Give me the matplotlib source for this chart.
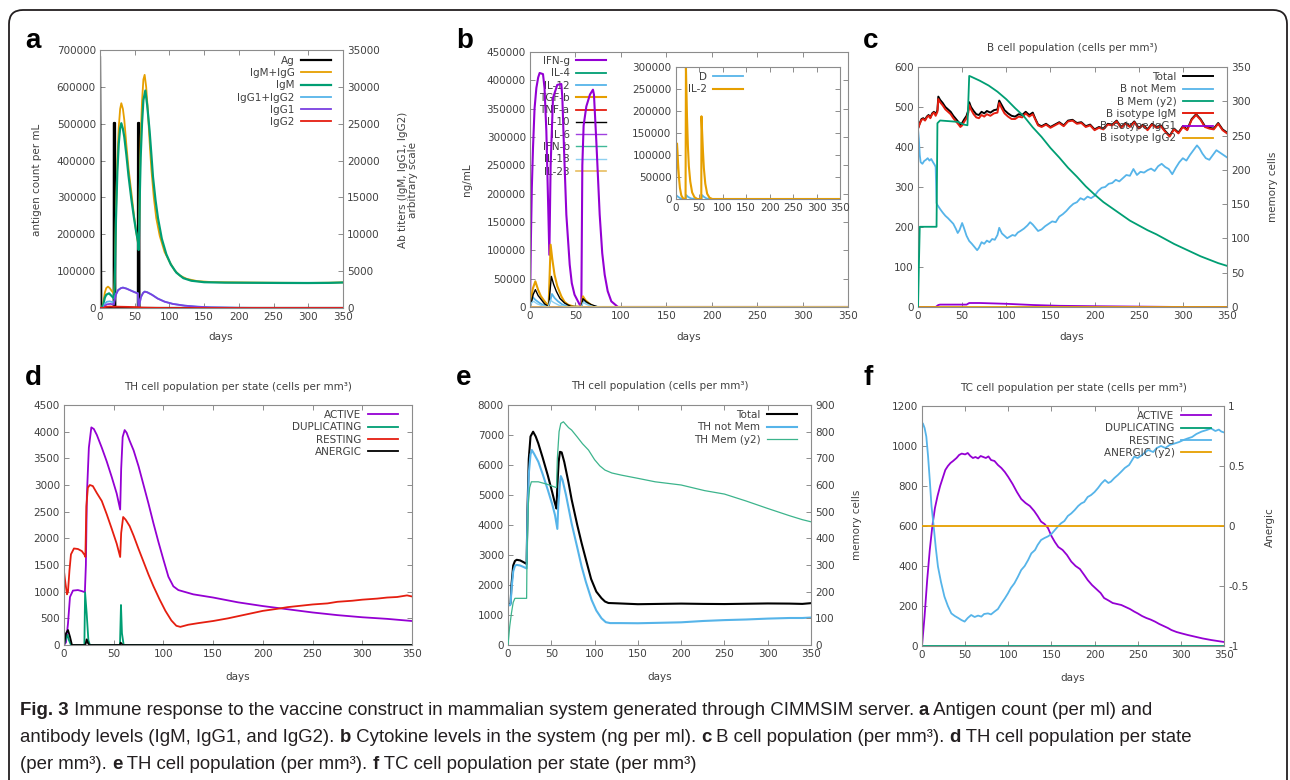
import matplotlib
matplotlib.use("Agg")
import matplotlib.pyplot as plt
from matplotlib.ticker import FuncFormatter
from matplotlib.transforms import IdentityTransform
from matplotlib.patches import FancyBboxPatch

W, H = 1290, 780
plt.rcParams['font.family'] = ['DejaVu Sans']
plt.rcParams['axes.unicode_minus'] = False

PURPLE = '#9400d3'
GREEN = '#009e73'
BLUE = '#56b4e9'
ORANGE = '#e69f00'
RED = '#e51e10'
BLACK = '#000000'
GRAY = '#8c8c8c'
TXT = '#404040'
FS = 7.5

day_ticks = [0, 50, 100, 150, 200, 250, 300, 350]

# ---- panel a : antigen (left) and antibody titers (right), (day, value)
a_ag = [(0, 680000), (1.8, 0), (19.8, 0), (20.0, 502000), (21.6, 502000), (22.0, 0),
        (54.6, 0), (54.8, 502000), (56.4, 502000), (56.8, 0), (350, 0)]
a_igm_igg = [(0, 0), (3, 0), (5, 900), (7, 2100), (9, 2700), (11.5, 2900), (14, 2700), (17, 2300),
             (20, 1990), (21, 3500), (22, 8000), (23, 13000), (25, 20000), (27, 24500), (29, 27000),
             (30.7, 27780), (33, 27000), (35, 25500), (38, 22100), (41, 19000), (45, 15800),
             (49, 12500), (52, 10400), (55.7, 8330), (56.5, 12000), (57.5, 18000), (58.6, 23000),
             (60.5, 28000), (62.5, 31000), (64.3, 31630), (66.5, 30000), (69, 26650), (71.5, 22500),
             (74, 18800), (77.5, 15000), (81, 12200), (86, 9800), (93, 7600), (100, 6300),
             (107.5, 5100), (115, 4400), (125, 3950), (140, 3650), (160, 3520), (184, 3484),
             (220, 3450), (260, 3420), (300, 3400), (330, 3430), (350, 3480)]
a_igm = [(0, 0), (3, 0), (5, 600), (7, 1400), (9, 1800), (13, 1990), (16, 1700), (20, 1310),
         (21, 2500), (22, 7000), (23, 12000), (25, 18500), (27, 22300), (29, 24400), (30.7, 25070),
         (33, 24300), (35, 23200), (38, 20770), (41, 18000), (45, 14890), (49, 12200), (52, 10400),
         (54.7, 9000), (55.7, 7870), (56.5, 11000), (57.5, 16000), (58.6, 20500), (60.5, 25000),
         (62.5, 28200), (65.3, 29500), (68, 27500), (71.5, 23940), (74, 20800), (76.3, 17800),
         (80, 14600), (83.5, 12200), (89, 9400), (95.5, 7300), (102, 5900), (110, 4800),
         (120, 4050), (131.5, 3700), (150, 3500), (180, 3440), (220, 3420), (260, 3400),
         (300, 3390), (330, 3410), (350, 3460)]
a_igg12 = [(0, 0), (5, 0), (7, 600), (10, 850), (14, 900), (18, 800), (20, 700), (21, 1200),
           (23, 1900), (26, 2450), (30, 2700), (33, 2780), (38, 2650), (44, 2400), (50, 2150),
           (54.7, 1990), (55.5, 200), (57, 600), (59, 1500), (62, 2050), (64.3, 2240), (68, 2150),
           (75, 1800), (83, 1300), (93, 860), (105, 560), (122, 317), (140, 180), (160, 90),
           (200, 25), (250, 0), (350, 0)]
a_igg1 = [(0, 0), (5, 0), (7, 300), (10, 500), (15, 560), (19, 480), (20, 450), (21, 1000),
          (23, 1800), (26, 2400), (30, 2680), (33, 2760), (38, 2630), (44, 2380), (50, 2130),
          (54.7, 1970), (55.5, 180), (57, 580), (59, 1480), (62, 2030), (64.3, 2217), (68, 2130),
          (75, 1780), (83, 1280), (93, 860), (105, 550), (122, 317), (140, 175), (160, 85),
          (200, 20), (250, 0), (350, 0)]
a_igg2 = [(0, 0), (5, 0), (8, 150), (15, 200), (20, 160), (25, 180), (40, 150), (55, 110),
          (60, 60), (80, 20), (100, 0), (350, 0)]

# ---- panel b : cytokines
b_ifng = [(0, 0), (1, 120000), (2, 210000), (3.3, 280600), (5, 350000), (7, 386500), (9, 405000),
          (10.6, 413000), (14.3, 411000), (16, 386500), (18, 310000), (19.8, 192000), (21.3, 92000),
          (22.7, 250000), (25.3, 368800), (30, 392000), (34.5, 393500), (35.6, 368800),
          (37.4, 280600), (40, 163000), (43.7, 74700), (46, 42000), (49, 21800), (54.7, 4100),
          (56.5, 2000), (57.6, 250000), (59, 320000), (62, 354000), (66, 375000), (69.3, 383500),
          (70.4, 374700), (73, 292400), (76.7, 163000), (79.5, 95000), (82.2, 57000),
          (85.5, 28000), (89.5, 10000), (96.8, 0), (350, 0)]
b_tgfb = [(0, 0), (1, 10000), (3, 32000), (5.9, 45300), (9, 30000), (12, 19000), (16, 10000),
          (20.5, 1200), (22.7, 110000), (24.5, 85000), (27, 57000), (30, 37000), (34.5, 18800),
          (38, 9000), (41.8, 4100), (48, 800), (56.5, 500), (58.3, 18800), (61, 12000),
          (65.7, 5300), (71.2, 0), (350, 0)]
b_il10 = [(0, 0), (1.5, 8000), (3.5, 22000), (5.9, 30600), (9, 20000), (12.5, 12900), (16, 5500),
          (20.5, 800), (23.5, 54000), (26, 40000), (29, 27600), (33, 15000), (38, 7000),
          (45, 1000), (56.5, 300), (58.3, 14700), (62, 9000), (67.5, 4100), (75, 0), (350, 0)]
b_il12 = [(0, 0), (1.5, 11000), (3.3, 17000), (6, 12500), (10.6, 7000), (15, 3000), (20, 600),
          (21.5, 6000), (24.2, 23000), (27, 16000), (30.8, 10000), (36, 4000), (41.8, 1200),
          (56.5, 200), (58.3, 13000), (62, 8000), (67.5, 2500), (75, 0), (350, 0)]
b_il18 = [(0, 0), (2, 8000), (4, 10000), (8, 5500), (14, 2000), (20, 300), (22.5, 12000),
          (26, 8000), (32, 3000), (40, 500), (56.5, 0), (58.5, 8000), (63, 4000), (70, 500),
          (80, 0), (350, 0)]
b_zero = [(0, 0), (350, 0)]
b_il2 = [(0, 0), (1, 60000), (2, 110000), (2.8, 126000), (4, 105000), (5, 82000), (7, 48000),
         (9, 25000), (12, 8000), (16, 1000), (21, 0), (21.4, 150000), (21.8, 300000),
         (23, 240000), (24, 190000), (26, 120000), (28, 75000), (31, 40000), (35, 15000),
         (40, 4000), (46, 0), (54.5, 0), (54.9, 188000), (56, 160000), (58, 110000), (60, 70000),
         (63, 35000), (67, 12000), (72, 3000), (78, 0), (350, 0)]
b_d = [(0, 0), (2, 8000), (5, 5000), (10, 1500), (18, 0), (21.5, 0), (22.5, 9000), (26, 5000),
       (32, 1500), (40, 0), (55, 0), (56, 9000), (60, 5000), (66, 1000), (75, 0), (350, 0)]

# ---- panel c : B cell population
c_total = [(0, 446), (2, 460), (4, 470), (6, 472), (8, 468), (10, 476), (12, 480), (14, 474),
           (16, 484), (18, 488), (20, 482), (22, 492), (23, 526), (25, 518), (28, 510), (31, 500),
           (34, 494), (37, 488), (40, 478), (43, 470), (46, 462), (48, 455), (50, 460), (52, 468),
           (55, 478), (57, 492), (58, 512), (60, 500), (63, 490), (66, 482), (69, 480), (72, 488),
           (75, 484), (78, 490), (82, 486), (86, 492), (90, 494), (92, 516), (95, 504), (98, 492),
           (102, 484), (106, 478), (110, 476), (114, 482), (118, 480), (122, 488), (126, 480),
           (130, 486), (133, 470), (136, 456), (140, 452), (145, 458), (150, 450), (155, 456),
           (160, 462), (165, 454), (170, 466), (175, 468), (180, 460), (185, 462), (190, 452),
           (195, 456), (200, 444), (205, 450), (210, 446), (215, 458), (220, 456), (225, 466),
           (230, 450), (235, 460), (240, 452), (245, 464), (250, 448), (255, 456), (260, 444),
           (265, 458), (270, 450), (275, 454), (280, 440), (285, 428), (290, 446), (295, 436),
           (300, 452), (305, 444), (310, 470), (315, 482), (320, 470), (325, 452), (330, 448),
           (335, 446), (340, 460), (345, 444), (350, 436)]
c_igm = [(0, 446), (2, 458), (4, 468), (6, 470), (8, 466), (10, 474), (12, 478), (14, 472),
         (16, 482), (18, 486), (20, 478), (22, 488), (23, 520), (25, 512), (28, 504), (31, 494),
         (34, 488), (37, 482), (40, 472), (43, 464), (46, 456), (48, 450), (50, 454), (52, 462),
         (55, 472), (57, 486), (58, 505), (60, 494), (63, 482), (66, 474), (69, 472), (72, 480),
         (75, 476), (78, 482), (82, 478), (86, 484), (90, 486), (92, 510), (95, 496), (98, 484),
         (102, 476), (106, 470), (110, 470), (114, 476), (118, 474), (122, 484), (126, 476),
         (130, 482), (133, 468), (136, 454), (140, 450), (145, 456), (150, 448), (155, 454),
         (160, 460), (165, 452), (170, 464), (175, 466), (180, 458), (185, 460), (190, 450),
         (195, 454), (200, 442), (205, 448), (210, 444), (215, 456), (220, 454), (225, 464),
         (230, 448), (235, 458), (240, 450), (245, 462), (250, 446), (255, 454), (260, 442),
         (265, 456), (270, 448), (275, 452), (280, 438), (285, 426), (290, 444), (295, 434),
         (300, 450), (305, 442), (310, 468), (315, 480), (320, 468), (325, 450), (330, 446),
         (335, 444), (340, 458), (345, 442), (350, 434)]
c_notmem = [(0, 445), (1, 420), (2, 380), (3, 362), (5, 358), (7, 365), (9, 368), (11, 372),
            (13, 366), (15, 370), (17, 362), (19, 355), (20, 350), (21, 260), (22, 255),
            (25, 245), (28, 236), (31, 228), (34, 222), (37, 215), (40, 208), (43, 195),
            (45, 185), (47, 192), (50, 210), (52, 198), (55, 178), (58, 165), (61, 158),
            (64, 150), (67, 142), (69, 148), (72, 162), (75, 158), (78, 166), (81, 162),
            (84, 170), (87, 168), (90, 180), (92, 198), (95, 184), (98, 178), (101, 172),
            (104, 176), (107, 180), (110, 178), (113, 186), (116, 190), (120, 196), (124, 204),
            (127, 212), (130, 206), (133, 198), (136, 190), (140, 194), (144, 202), (148, 208),
            (152, 214), (156, 212), (160, 226), (164, 232), (168, 240), (172, 250), (176, 258),
            (180, 262), (184, 272), (188, 268), (192, 276), (196, 272), (200, 278), (204, 290),
            (208, 298), (212, 300), (216, 308), (220, 310), (224, 318), (228, 314), (232, 322),
            (236, 330), (240, 328), (244, 345), (248, 330), (252, 338), (256, 336), (260, 342),
            (264, 346), (268, 340), (272, 352), (276, 358), (280, 350), (284, 345), (288, 332),
            (292, 348), (296, 362), (300, 372), (304, 366), (308, 380), (312, 392), (316, 404),
            (319, 396), (322, 384), (326, 372), (330, 368), (334, 380), (338, 392), (342, 386),
            (346, 380), (350, 374)]
c_mem = [(0, 0), (1, 60), (2, 117), (21, 117), (22, 268), (25, 272), (35, 271), (45, 270),
         (52, 266), (56, 265), (57, 300), (58, 337), (60, 336), (70, 330), (80, 323), (90, 314),
         (100, 303), (110, 290), (120, 278), (130, 262), (140, 248), (150, 232), (160, 218),
         (170, 203), (180, 190), (190, 176), (200, 164), (210, 153), (220, 144), (230, 135),
         (240, 126), (250, 119), (260, 112), (270, 106), (280, 99), (290, 92), (300, 86),
         (310, 80), (320, 74), (330, 69), (340, 64), (350, 60)]
c_igg1 = [(0, 0), (20, 0), (23, 5), (25, 6), (55, 6), (58, 10), (70, 10), (100, 8), (130, 5),
          (160, 3), (200, 2), (250, 1), (300, 0), (350, 0)]
c_igg2 = [(0, 0), (350, 0)]

# ---- panel d : TH cells per state
d_active = [(0, 0), (2, 50), (4, 400), (6, 900), (9, 1020), (14, 1030), (18, 1010), (21, 990),
            (22, 1500), (23, 2800), (25, 3700), (27.5, 4080), (30, 4050), (33, 3940), (38, 3700),
            (43, 3440), (48, 3150), (53, 2840), (56.5, 2540), (57.5, 3300), (59, 3900),
            (61, 4030), (63, 3980), (66, 3830), (70, 3650), (75, 3350), (80, 3000), (85, 2650),
            (90, 2280), (95, 1930), (100, 1600), (105, 1280), (110, 1100), (115, 1030),
            (130, 950), (150, 890), (175, 800), (200, 730), (225, 670), (250, 610), (275, 560),
            (300, 520), (325, 490), (350, 450)]
d_dup = [(0, 0), (2, 120), (3.5, 190), (5, 90), (7, 0), (20.5, 0), (21.2, 987), (22.8, 594),
         (24.5, 94), (26, 0), (56.3, 0), (57.3, 750), (58.3, 219), (60, 0), (350, 0)]
d_resting = [(0, 1380), (1.5, 1150), (3, 950), (4, 1000), (5.5, 1400), (7, 1700), (10, 1810),
             (14, 1800), (18, 1760), (21, 1680), (21.5, 1650), (22.5, 2600), (24, 2950),
             (26, 3000), (29, 2980), (33, 2850), (38, 2700), (43, 2450), (48, 2180), (53, 1900),
             (56.5, 1650), (57.5, 2100), (59.5, 2400), (62, 2350), (66, 2230), (70, 2050),
             (75, 1800), (80, 1560), (85, 1320), (90, 1100), (96, 860), (102, 640), (108, 460),
             (113, 360), (117, 340), (125, 380), (135, 410), (150, 450), (165, 500), (175, 540),
             (190, 600), (200, 640), (215, 680), (225, 710), (240, 740), (250, 760), (265, 780),
             (275, 810), (290, 830), (300, 850), (315, 870), (325, 890), (335, 900), (345, 930),
             (350, 910)]
d_anergic = [(0, 0), (2, 219), (4, 281), (6, 156), (8, 0), (21.5, 0), (22.8, 106), (24.5, 20),
             (26, 0), (56.3, 0), (57, 44), (59, 0), (350, 0)]

# ---- panel e : TH cell population
e_total = [(0, 1370), (2, 1340), (3, 1400), (4, 2000), (6, 2650), (8, 2800), (10, 2840),
           (14, 2820), (18, 2760), (21.5, 2700), (22.5, 4500), (24, 6200), (26, 6950),
           (29, 7110), (32, 6950), (35, 6720), (40, 6250), (46, 5650), (51, 5100), (54, 4750),
           (56, 4550), (57, 5300), (58.5, 6100), (60, 6440), (62, 6420), (65, 6100), (70, 5400),
           (73.5, 4850), (80, 4000), (85, 3400), (90, 2850), (96, 2200), (102, 1780),
           (108, 1560), (112, 1450), (116, 1400), (125, 1390), (150, 1360), (175, 1370),
           (200, 1380), (225, 1370), (250, 1365), (275, 1375), (300, 1385), (325, 1380),
           (340, 1370), (350, 1395)]
e_notmem = [(0, 1370), (2, 1320), (3, 1350), (4, 1850), (6, 2450), (8, 2640), (10, 2670),
            (14, 2650), (18, 2600), (21.5, 2550), (22.5, 4300), (24, 5700), (26, 6350),
            (27.5, 6500), (30, 6380), (35, 6110), (40, 5700), (46, 5170), (51, 4700),
            (54.3, 4330), (57, 3870), (58, 4600), (60, 5400), (61, 5630), (63, 5500), (67, 5000),
            (73.5, 4050), (80, 3250), (85, 2620), (90, 2100), (96.6, 1500), (102, 1150),
            (108, 890), (113, 760), (118, 730), (130, 730), (150, 725), (175, 740), (200, 756),
            (225, 800), (250, 830), (275, 850), (300, 880), (325, 900), (340, 900), (350, 915)]
e_mem = [(0, 0), (2, 70), (4, 120), (6, 160), (8, 175), (21.5, 175), (22, 350), (23.5, 530),
         (25, 590), (27, 612), (35, 612), (45, 603), (56, 590), (57, 700), (59, 800), (61, 831),
         (64, 837), (70, 815), (73.5, 806), (80, 780), (86, 755), (93, 731), (100, 695),
         (106, 672), (112, 656), (120, 645), (131, 637), (150, 625), (170, 612), (200, 600),
         (227, 579), (250, 566), (275, 540), (300, 512), (325, 485), (340, 470), (350, 462)]

# ---- panel f : TC cells per state
f_active = [(0, 0), (3, 150), (6, 330), (9, 480), (12, 600), (15, 690), (18, 750), (21, 800),
            (24, 840), (27, 880), (30, 900), (33, 915), (36, 925), (40, 940), (43, 955),
            (46, 962), (50, 958), (53, 965), (56, 950), (59, 940), (62, 945), (65, 938),
            (68, 950), (71, 945), (74, 940), (77, 948), (80, 930), (84, 925), (88, 905),
            (92, 890), (96, 870), (100, 845), (105, 810), (110, 770), (115, 735), (120, 715),
            (125, 700), (130, 675), (134, 650), (138, 622), (142, 610), (146, 590), (150, 550),
            (154, 520), (158, 495), (163, 480), (168, 455), (173, 422), (178, 400), (183, 385),
            (188, 355), (192, 330), (197, 305), (202, 285), (207, 265), (211, 240), (216, 228),
            (221, 215), (226, 210), (231, 205), (236, 195), (241, 185), (246, 172), (250, 163),
            (255, 150), (260, 140), (265, 132), (270, 122), (275, 110), (280, 100), (285, 90),
            (289, 80), (295, 70), (300, 64), (308, 55), (315, 48), (325, 38), (335, 30),
            (347, 22), (350, 20)]
f_dup = [(0, 0), (350, 0)]
f_resting = [(0, 1100), (1, 1113), (3, 1090), (5, 1047), (7, 950), (9, 830), (11, 700),
             (13.5, 600), (16, 490), (18.5, 397), (22, 320), (26, 247), (30, 200), (34, 163),
             (38, 150), (42, 140), (45.6, 130), (49.4, 122), (53, 140), (57, 155), (61, 145),
             (65, 152), (68.8, 147), (72, 160), (76.5, 163), (80, 158), (84, 172), (88, 185),
             (92, 213), (96, 238), (99.6, 263), (103, 290), (107, 313), (111, 345), (115, 380),
             (119, 400), (123, 430), (126.7, 463), (131, 480), (134, 505), (138, 530),
             (142, 540), (146, 548), (150, 560), (154, 580), (158, 600), (161, 613), (165, 625),
             (169, 650), (173, 663), (177, 680), (181, 700), (184.6, 713), (188, 720),
             (192, 745), (196, 755), (200, 770), (204, 790), (208, 813), (212, 830), (216, 815),
             (219, 822), (223, 840), (227, 855), (231, 872), (235, 890), (240, 905), (246, 947),
             (250, 940), (255, 955), (262, 980), (268, 970), (272, 990), (277, 1000),
             (282, 990), (287, 1005), (293, 1013), (298, 1020), (303, 1030), (308, 1038),
             (313, 1045), (318, 1060), (324, 1072), (330, 1080), (335, 1088), (340, 1075),
             (344, 1082), (347, 1072), (350, 1068)]
f_anergic = [(0, 0), (350, 0)]


def cols(pts):
    return [p[0] for p in pts], [p[1] for p in pts]


fig = plt.figure(figsize=(W / 100, H / 100), dpi=100)


def add_ax(l, t, r, b):
    return fig.add_axes([l / W, 1 - b / H, (r - l) / W, (b - t) / H])


def ptext(x, y, s, **kw):
    kw.setdefault('color', TXT)
    kw.setdefault('fontsize', FS)
    return fig.text(x / W, 1 - y / H, s, **kw)


gfmt = FuncFormatter(lambda v, p: f'{v:g}')


def gnu(ax, ylim, yticks, mirror=True, xlim=(0, 350), xticks=day_ticks):
    ax.set_xlim(*xlim)
    ax.set_ylim(*ylim)
    ax.set_xticks(xticks)
    ax.set_yticks(yticks)
    ax.xaxis.set_major_formatter(gfmt)
    ax.yaxis.set_major_formatter(gfmt)
    for s in ax.spines.values():
        s.set_color(GRAY)
        s.set_linewidth(0.8)
    ax.tick_params(direction='in', length=3.5, width=0.7, color=GRAY, labelcolor=TXT,
                   labelsize=FS, top=True, right=mirror, pad=3)


def gnu_right(ax, ylim, yticks, labels=None):
    tw = ax.twinx()
    tw.set_ylim(*ylim)
    tw.set_yticks(yticks)
    if labels:
        tw.set_yticklabels(labels)
    else:
        tw.yaxis.set_major_formatter(gfmt)
    for s in tw.spines.values():
        s.set_visible(False)
    tw.tick_params(axis='y', direction='in', length=3.5, width=0.7, color=GRAY,
                   labelcolor=TXT, labelsize=FS, pad=3)
    return tw


def line(ax, pts, color, label, lw=1.3, **kw):
    x, y = cols(pts)
    return ax.plot(x, y, color=color, lw=lw, label=label, **kw)[0]


def legend(ax, handles, xr, yt):
    leg = ax.legend(handles=handles, loc='upper right', bbox_to_anchor=(xr, yt),
                    frameon=False, markerfirst=False, fontsize=FS, handlelength=2.9,
                    handletextpad=0.6, labelspacing=0.22, borderpad=0, borderaxespad=0)
    for t in leg.get_texts():
        t.set_color(TXT)
    leg.set_zorder(1)
    return leg


# ---------------- a
ax = add_ax(100, 50, 343, 308)
gnu(ax, (0, 700000), range(0, 700001, 100000), mirror=False)
tw = gnu_right(ax, (0, 35000), range(0, 35001, 5000))
h = [line(ax, a_ag, BLACK, 'Ag', lw=1.6)]
h.append(line(tw, a_igm_igg, ORANGE, 'IgM+IgG'))
h.append(line(tw, a_igm, GREEN, 'IgM', lw=1.6))
h.append(line(tw, a_igg12, BLUE, 'IgG1+IgG2'))
h.append(line(tw, a_igg1, '#7a3fe0', 'IgG1'))
h.append(line(tw, a_igg2, RED, 'IgG2'))
legend(tw, h, 0.951, 0.978)
ptext(37, 180, 'antigen count per mL', rotation=90, ha='center', va='center')
ptext(408, 180, 'Ab titers (IgM, IgG1, IgG2)\narbitrary scale', rotation=90, ha='center',
      va='center', multialignment='center', linespacing=1.0)
ptext(221, 337, 'days', ha='center', va='center')

# ---------------- b
ax = add_ax(530, 52, 848, 307)
gnu(ax, (0, 450000), range(0, 450001, 50000))
h = [line(ax, b_ifng, PURPLE, 'IFN-g', lw=1.5)]
h.append(line(ax, b_zero, GREEN, 'IL-4'))
h.append(line(ax, b_il12, BLUE, 'IL-12'))
h.append(line(ax, b_tgfb, ORANGE, 'TGF-b', lw=1.5))
h.append(line(ax, b_zero, RED, 'TNF-a'))
h.append(line(ax, b_il10, BLACK, 'IL-10', lw=1.0))
h.append(line(ax, b_zero, '#a040e0', 'IL-6', lw=1.0))
h.append(line(ax, b_zero, '#40b898', 'IFN-b', lw=1.0))
h.append(line(ax, b_il18, '#8ed0f0', 'IL-18', lw=1.0))
h.append(line(ax, b_zero, '#e8bd60', 'IL-23', lw=1.2))
legend(ax, h, (606 - 530) / 318, (307 - 56) / 255)
ptext(467, 180, 'ng/mL', rotation=90, ha='center', va='center')
ptext(689, 337, 'days', ha='center', va='center')

ins = add_ax(675.7, 67, 840, 199)
gnu(ins, (0, 300000), range(0, 300001, 50000))
h = [line(ins, b_d, BLUE, 'D')]
h.append(line(ins, b_il2, ORANGE, 'IL-2', lw=1.5))
legend(ins, h, (743 - 675.7) / 164.3, (199 - 72) / 132)

# ---------------- c
ax = add_ax(918, 67, 1227, 307)
gnu(ax, (0, 600), range(0, 601, 100), mirror=False)
tw = gnu_right(ax, (0, 350), range(0, 351, 50))
h = [line(ax, c_total, BLACK, 'Total', lw=1.4)]
h.append(line(ax, c_notmem, BLUE, 'B not Mem'))
h.append(line(tw, c_mem, GREEN, 'B Mem (y2)'))
h.append(line(ax, c_igm, RED, 'B isotype IgM', lw=1.4))
h.append(line(ax, c_igg1, PURPLE, 'B isotype IgG1'))
h.append(line(ax, c_igg2, ORANGE, 'B isotype IgG2'))
legend(tw, h, (1213 - 918) / 309, (307 - 72) / 240)
ptext(1072, 48, 'B cell population (cells per mm³)', ha='center', va='center')
ptext(1273, 187, 'memory cells', rotation=90, ha='center', va='center')
ptext(1072, 337, 'days', ha='center', va='center')

# ---------------- d
ax = add_ax(64, 405, 412, 645)
gnu(ax, (0, 4500), range(0, 4501, 500))
h = [line(ax, d_active, PURPLE, 'ACTIVE')]
h.append(line(ax, d_dup, GREEN, 'DUPLICATING'))
h.append(line(ax, d_resting, RED, 'RESTING'))
h.append(line(ax, d_anergic, BLACK, 'ANERGIC'))
legend(ax, h, (398 - 64) / 348, (645 - 410) / 240)
ptext(238, 387, 'TH cell population per state (cells per mm³)', ha='center', va='center')
ptext(238, 677, 'days', ha='center', va='center')

# ---------------- e
ax = add_ax(508, 405, 811, 645)
gnu(ax, (0, 8000), range(0, 8001, 1000), mirror=False)
tw = gnu_right(ax, (0, 900), range(0, 901, 100))
h = [line(ax, e_total, BLACK, 'Total', lw=1.5)]
h.append(line(ax, e_notmem, BLUE, 'TH not Mem', lw=1.5))
h.append(line(tw, e_mem, '#3cb48c', 'TH Mem (y2)', lw=0.9))
legend(tw, h, (797 - 508) / 303, (645 - 410) / 240)
ptext(660, 386, 'TH cell population (cells per mm³)', ha='center', va='center')
ptext(857, 525, 'memory cells', rotation=90, ha='center', va='center')
ptext(660, 677, 'days', ha='center', va='center')

# ---------------- f
ax = add_ax(922, 406, 1224, 646)
gnu(ax, (0, 1200), range(0, 1201, 200), mirror=False)
tw = gnu_right(ax, (-1, 1), [-1, -0.5, 0, 0.5, 1], ['-1', '-0.5', '0', '0.5', '1'])
h = [line(ax, f_active, PURPLE, 'ACTIVE')]
h.append(line(ax, f_dup, GREEN, 'DUPLICATING'))
h.append(line(ax, f_resting, BLUE, 'RESTING'))
h.append(line(tw, f_anergic, ORANGE, 'ANERGIC (y2)'))
legend(tw, h, (1211 - 922) / 302, (646 - 411) / 240)
ptext(1073, 388, 'TC cell population per state (cells per mm³)', ha='center', va='center')
ptext(1270, 527, 'Anergic', rotation=90, ha='center', va='center')
ptext(1073, 678, 'days', ha='center', va='center')

# ---------------- panel letters
for s, x, y in [('a', 25, 48), ('b', 456, 48), ('c', 863, 48),
                ('d', 25, 385), ('e', 456, 385), ('f', 863, 385)]:
    ptext(x, y, s, fontsize=20, fontweight='bold', color='black', family='Liberation Sans',
          va='baseline', ha='left')

# ---------------- border
box = FancyBboxPatch((9, -20), 1278, 790, boxstyle='round,pad=0,rounding_size=14',
                     transform=IdentityTransform(), fill=False, ec='#231f20', lw=1.3)
fig.add_artist(box)

# ---------------- caption
CAP_FONT = ['Liberation Sans']
CAP_SIZE = 13.4
caption = [
    [("Fig. 3", True), (" Immune response to the vaccine construct in mammalian system generated "
                        "through CIMMSIM server. ", False), ("a", True),
     (" Antigen count (per ml) and", False)],
    [("antibody levels (IgM, IgG1, and IgG2). ", False), ("b", True),
     (" Cytokine levels in the system (ng per ml). ", False), ("c", True),
     (" B cell population (per mm³). ", False), ("d", True),
     (" TH cell population per state", False)],
    [("(per mm³). ", False), ("e", True), (" TH cell population (per mm³). ", False),
     ("f", True), (" TC cell population per state (per mm³)", False)],
]
renderer = fig.canvas.get_renderer()


def width_of(s, bold):
    w = []
    for txt in ('|' + s + '|', '||'):
        t = fig.text(0, 0, txt, fontsize=CAP_SIZE, family=CAP_FONT,
                     fontweight='bold' if bold else 'normal')
        w.append(t.get_window_extent(renderer).width)
        t.remove()
    return w[0] - w[1]


for row, base in zip(caption, [715, 742, 769]):
    x = 20
    for s, bold in row:
        ptext(x, base, s, fontsize=CAP_SIZE, family=CAP_FONT,
              fontweight='bold' if bold else 'normal', color='#231f20', va='baseline')
        x += width_of(s, bold)

fig.savefig('out.png', dpi=100)
